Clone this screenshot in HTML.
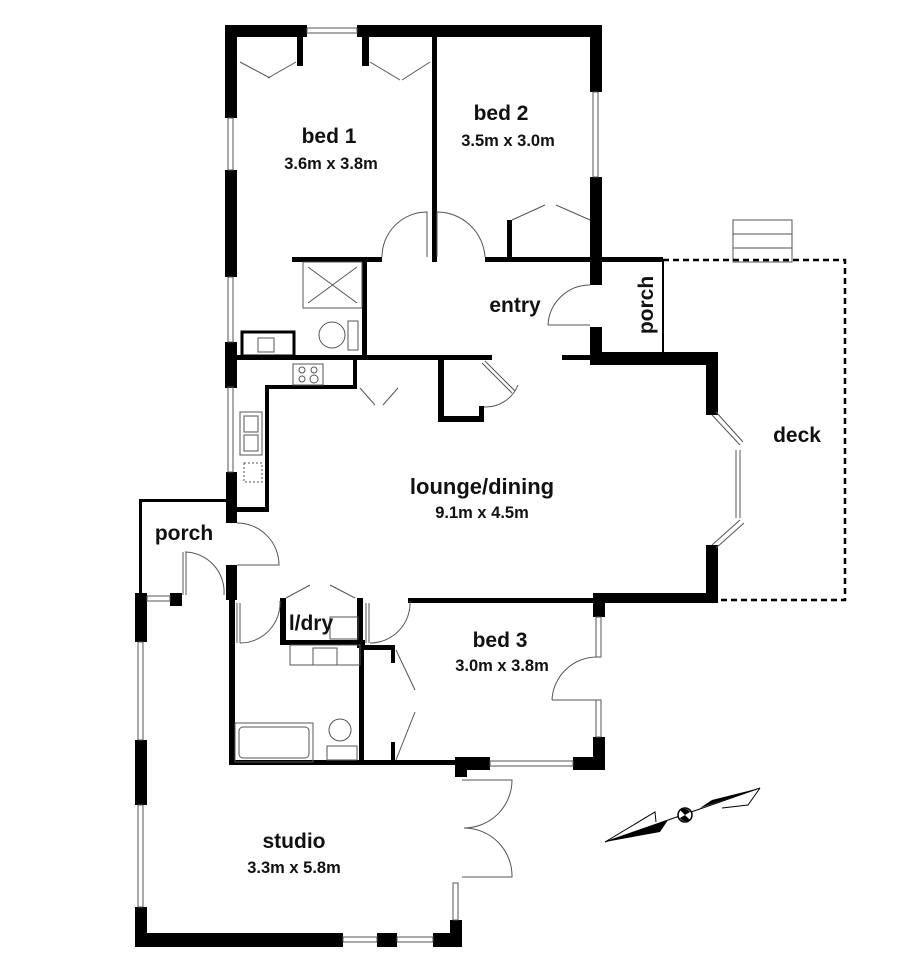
<!DOCTYPE html>
<html><head><meta charset="utf-8"><style>
html,body{margin:0;padding:0;background:#fff;}
svg{display:block;}
text{font-family:"Liberation Sans",Arial,sans-serif;font-weight:bold;fill:#111;text-anchor:middle;}
.t{font-size:21px;}
.l{font-size:22px;}
.s{font-size:16.5px;}
</style></head><body>
<svg width="920" height="972" viewBox="0 0 920 972" xmlns="http://www.w3.org/2000/svg">
<g fill="#000">
<rect x="225" y="25" width="82" height="12"/>
<rect x="357" y="25" width="245" height="12"/>
<rect x="225" y="25" width="12" height="93"/>
<rect x="590" y="25" width="12" height="67"/>
<rect x="590" y="177" width="12" height="108"/>
<rect x="590" y="327" width="12" height="38"/>
<rect x="297" y="37" width="6" height="29"/>
<rect x="362" y="37" width="7" height="29"/>
<rect x="432" y="37" width="5" height="225"/>
<rect x="225" y="170" width="12" height="107"/>
<rect x="225" y="342" width="12" height="46"/>
<rect x="226" y="472" width="11" height="51"/>
<rect x="226" y="565" width="11" height="35"/>
<rect x="292" y="257" width="90" height="5"/>
<rect x="485" y="257" width="178" height="5"/>
<rect x="507" y="220" width="5" height="40"/>
<rect x="362" y="262" width="5" height="98"/>
<rect x="237" y="355" width="255" height="5"/>
<rect x="562" y="355" width="40" height="5"/>
<rect x="598" y="352" width="120" height="13"/>
<rect x="706" y="352" width="12" height="63"/>
<rect x="706" y="545" width="12" height="58"/>
<rect x="600" y="593" width="118" height="10"/>
<rect x="353" y="360" width="4" height="27"/>
<rect x="265" y="385" width="92" height="4"/>
<rect x="265" y="385" width="4" height="127"/>
<rect x="237" y="507" width="32" height="5"/>
<rect x="438" y="360" width="6" height="62"/>
<rect x="438" y="416" width="46" height="6"/>
<rect x="479" y="406" width="5" height="16"/>
<rect x="139" y="500" width="3" height="95"/>
<rect x="139" y="499" width="87" height="3"/>
<rect x="135" y="593" width="12" height="49"/>
<rect x="135" y="740" width="12" height="65"/>
<rect x="135" y="907" width="12" height="40"/>
<rect x="135" y="933" width="208" height="14"/>
<rect x="377" y="933" width="20" height="14"/>
<rect x="433" y="933" width="29" height="14"/>
<rect x="450" y="920" width="12" height="27"/>
<rect x="170" y="593" width="12" height="13"/>
<rect x="229" y="600" width="6" height="165"/>
<rect x="229" y="760" width="226" height="5"/>
<rect x="455" y="757" width="35" height="13"/>
<rect x="455" y="765" width="12" height="12"/>
<rect x="573" y="757" width="32" height="13"/>
<rect x="593" y="737" width="12" height="33"/>
<rect x="593" y="593" width="12" height="24"/>
<rect x="280" y="598" width="6" height="47"/>
<rect x="280" y="640" width="85" height="5"/>
<rect x="357" y="598" width="6" height="50"/>
<rect x="359" y="645" width="5" height="120"/>
<rect x="362" y="645" width="33" height="5"/>
<rect x="391" y="645" width="4" height="18"/>
<rect x="391" y="742" width="4" height="20"/>
<rect x="408" y="598" width="190" height="5"/>
</g>
<g fill="none" stroke="#555" stroke-width="1">
<rect x="307" y="28" width="50" height="5"/>
<rect x="593" y="92" width="5" height="85"/>
<rect x="228" y="118" width="5" height="52"/>
<rect x="228" y="277" width="5" height="65"/>
<rect x="228" y="387" width="5" height="85"/>
<rect x="138" y="642" width="5" height="98"/>
<rect x="138" y="805" width="5" height="102"/>
<rect x="343" y="937" width="34" height="5"/>
<rect x="397" y="937" width="36" height="5"/>
<rect x="453" y="883" width="5" height="37"/>
<rect x="147" y="596" width="23" height="5"/>
<rect x="490" y="761" width="83" height="5"/>
<rect x="596" y="617" width="5" height="40"/>
<rect x="596" y="700" width="5" height="37"/>
<path d="M382 257 A45 45 0 0 1 427 212 L427 257"/>
<path d="M485 257 A48 48 0 0 0 437 212 L437 257"/>
<path d="M548 325 A42 42 0 0 1 590 285 M548 325 H590"/>
<path d="M237 523 A42 42 0 0 1 279 565 H237"/>
<path d="M185 552 A40 40 0 0 1 224 595 M183 552 V595 M186 552 V595"/>
<path d="M240 643 A40 40 0 0 0 280 601 M237 603 V643 M240 603 V643"/>
<path d="M370 643 A40 40 0 0 0 410 601 M366 603 V643 M369 603 V643"/>
<path d="M552 700 A45 45 0 0 1 597 657 M552 700 H597"/>
<path d="M462 780 H512 A48 48 0 0 1 464 828 A48 48 0 0 1 512 877 H462"/>
<path d="M484 407 A35 35 0 0 0 518 385 M482 363 L512 393 M485 361 L515 391"/>
<path d="M240 62 L270 78 M296 62 L268 78 M370 62 L400 80 M430 62 L402 80"/>
<path d="M512 220 L545 205 M590 220 L556 205"/>
<path d="M360 388 L375 405 M398 388 L383 405"/>
<path d="M286 598 L310 585 M355 598 L330 585"/>
<path d="M396 650 L415 690 M396 760 L415 712"/>
<rect x="303" y="262" width="59" height="46"/>
<path d="M308 267 L357 303 M357 267 L308 303"/>
<circle cx="332" cy="335" r="13"/>
<rect x="348" y="321" width="10" height="29"/>
<rect x="242" y="332" width="52" height="24" stroke="#000" stroke-width="3"/>
<rect x="258" y="338" width="16" height="14"/>
<rect x="293" y="364" width="30" height="21"/>
<circle cx="302" cy="370" r="3"/><circle cx="314" cy="370" r="3"/><circle cx="302" cy="379" r="3"/><circle cx="314" cy="379" r="4"/>
<rect x="240" y="412" width="22" height="43"/>
<rect x="244" y="416" width="14" height="16"/><rect x="244" y="435" width="14" height="16"/>
<rect x="244" y="463" width="18" height="19" stroke-dasharray="2,2"/>
<rect x="330" y="617" width="28" height="22"/>
<rect x="290" y="645" width="70" height="20"/>
<rect x="313" y="648" width="24" height="17"/>
<rect x="235" y="723" width="78" height="39"/>
<rect x="239" y="727" width="70" height="31" rx="4"/>
<circle cx="340" cy="730" r="11"/>
<rect x="327" y="746" width="30" height="14"/>
<path d="M712 415 L740 445 M716 412 L743 442 M736 450 V518 M740 450 V518 M740 520 L712 545 M744 523 L716 548"/>
<rect x="733" y="220" width="59" height="42"/>
<path d="M733 234 H792 M733 248 H792"/>
</g>
<g fill="none" stroke="#000">
<path d="M663 260 V352" stroke-width="2"/>
<path d="M663 260 H845 V600 H717" stroke-width="2.5" stroke-dasharray="6,4"/>
</g>
<g>
<path d="M605 842 L668 820 L660 832 Z" fill="#000"/>
<path d="M605 842 L655 812 L656 822" fill="none" stroke="#000"/>
<path d="M760 788 L700 808 L712 800 Z" fill="#000"/>
<path d="M760 788 L748 805 L722 808" fill="none" stroke="#000"/>
<line x1="605" y1="842" x2="760" y2="788" stroke="#000"/>
<circle cx="685" cy="815" r="7" fill="#fff" stroke="#000" stroke-width="1.5"/>
<path d="M685 815 L680 810 A7 7 0 0 1 690 812 Z M685 815 L690 820 A7 7 0 0 1 680 818 Z" fill="#000"/>
</g>
<text class="t" x="329" y="143">bed 1</text>
<text class="s" x="331" y="169">3.6m x 3.8m</text>
<text class="t" x="501" y="120">bed 2</text>
<text class="s" x="508" y="146">3.5m x 3.0m</text>
<text class="t" x="515" y="312">entry</text>
<text class="t" transform="translate(653,305) rotate(-90)">porch</text>
<text class="t" x="797" y="442">deck</text>
<text class="l" x="482" y="494">lounge/dining</text>
<text class="s" x="482" y="518">9.1m x 4.5m</text>
<text class="t" x="184" y="540">porch</text>
<text class="t" x="311" y="630">l/dry</text>
<text class="t" x="500" y="647">bed 3</text>
<text class="s" x="502" y="671">3.0m x 3.8m</text>
<text class="t" x="294" y="848">studio</text>
<text class="s" x="294" y="873">3.3m x 5.8m</text>
</svg>
</body></html>
